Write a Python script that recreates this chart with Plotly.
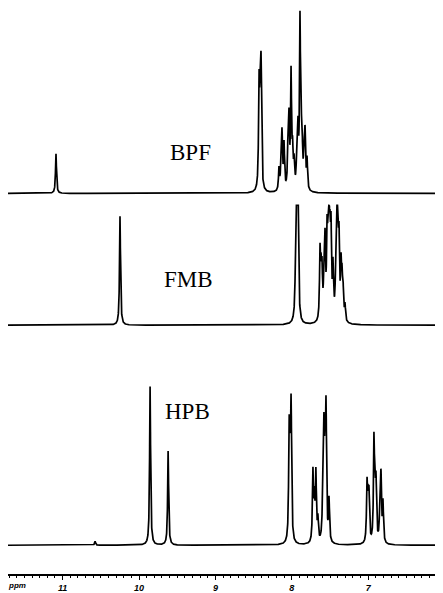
import numpy as np
import plotly.graph_objects as go

# ---- data (chemical shift in ppm, peak heights in arbitrary units) ----
compounds = ["BPF", "FMB", "HPB"]

bpf_shift = [11.087, 8.429, 8.415, 8.403, 8.168, 8.140, 8.128, 8.102, 8.050,
             8.037, 8.010, 7.990, 7.971, 7.935, 7.919, 7.893, 7.878, 7.866,
             7.840, 7.827, 7.801]
bpf_height = [40, 100, 70, 115, 22, 30, 52, 45, 40, 65, 115, 35, 25, 30, 55,
              165, 40, 45, 35, 52, 30]

fmb_shift = [10.249, 7.945, 7.932, 7.919, 7.631, 7.618, 7.605, 7.578, 7.565,
             7.539, 7.526, 7.513, 7.500, 7.487, 7.461, 7.421, 7.408, 7.395,
             7.382, 7.356, 7.343, 7.330, 7.304]
fmb_height = [110, 130, 100, 130, 65, 40, 45, 50, 70, 75, 60, 95, 60, 80, 50,
              70, 110, 60, 70, 50, 35, 30, 16]
fmb_clip = 121

hpb_shift = [10.575, 9.855, 9.619, 8.035, 8.022, 8.009, 7.724, 7.705, 7.685,
             7.659, 7.593, 7.580, 7.566, 7.552, 7.513, 7.016, 7.003, 6.990,
             6.925, 6.912, 6.898, 6.846, 6.833, 6.807]
hpb_height = [4, 160, 95, 105, 65, 128, 70, 40, 68, 22, 55, 95, 70, 125, 42,
              55, 35, 45, 97, 45, 55, 40, 62, 40]

baselines = [384, 251, 29]
label_pos = [(9.33, 425), (9.35, 297), (9.36, 164)]

tick_vals = [11, 10, 9, 8, 7]
tick_text = ["11", "10", "9", "8", "7"]

# ---- build spectra ----
ppm = np.linspace(11.75, 6.0, 6000)
hw = 0.0075


def spectrum(shifts, heights):
    y = np.zeros_like(ppm)
    for s, h in zip(shifts, heights):
        y += h * hw ** 2 / ((ppm - s) ** 2 + hw ** 2)
    return y


specs = [spectrum(bpf_shift, bpf_height),
         np.minimum(spectrum(fmb_shift, fmb_height), fmb_clip),
         spectrum(hpb_shift, hpb_height)]

fig = go.Figure()
for name, sp, base in zip(compounds, specs, baselines):
    fig.add_trace(go.Scatter(x=ppm, y=sp + base, mode="lines", name=name,
                             line=dict(color="black", width=1.7),
                             hoverinfo="skip", showlegend=False))

for name, (lx, ly) in zip(compounds, label_pos):
    fig.add_annotation(x=lx, y=ly, text=name, showarrow=False,
                       font=dict(family="Liberation Serif", size=23, color="black"))

fig.add_annotation(x=11.60, y=0, yshift=-11, text="<i><b>ppm</b></i>",
                   showarrow=False,
                   font=dict(family="Liberation Sans", size=8, color="black"))

fig.update_xaxes(range=[11.715, 6.021], autorange=False, showline=True,
                 linecolor="black", linewidth=1.5, showgrid=False, zeroline=False,
                 tickmode="array", tickvals=tick_vals, ticktext=tick_text,
                 ticks="outside", ticklen=4, tickwidth=1, tickcolor="black",
                 tickfont=dict(family="Liberation Sans", size=9, color="black",
                               weight="bold", style="italic"),
                 minor=dict(dtick=0.1, tick0=0, ticks="outside", ticklen=2,
                            tickwidth=1, tickcolor="black", showgrid=False))
fig.update_yaxes(range=[0, 571], autorange=False, visible=False)

# page body keeps an 8px default margin, so the figure is 8px smaller
fig.update_layout(width=435, height=585, margin=dict(l=0, r=0, t=0, b=14),
                  plot_bgcolor="white", paper_bgcolor="white")

fig.write_html("out.html")
